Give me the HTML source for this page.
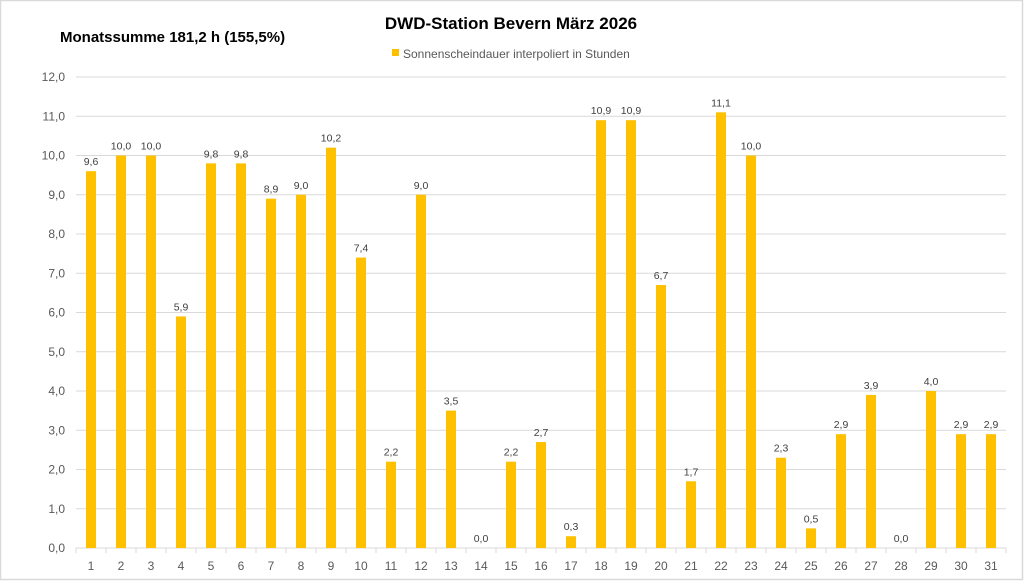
<!DOCTYPE html>
<html><head><meta charset="utf-8"><style>
html,body{margin:0;padding:0;background:#fff;}
svg{display:block;font-family:"Liberation Sans",sans-serif;}
</style></head><body>
<svg width="1024" height="581" viewBox="0 0 1024 581" xmlns="http://www.w3.org/2000/svg">
<rect x="0.5" y="0.5" width="1022" height="579" fill="#fff" stroke="#d9d9d9" stroke-width="1.5"/>
<text x="511" y="29" text-anchor="middle" font-size="17" font-weight="bold" fill="#000">DWD-Station Bevern März 2026</text>
<text x="60" y="42" font-size="15" font-weight="bold" fill="#000">Monatssumme 181,2 h (155,5%)</text>
<rect x="392" y="49" width="7" height="7" fill="#FFC000"/>
<text x="403" y="58" font-size="12" fill="#595959">Sonnenscheindauer interpoliert in Stunden</text>
<g id="grid" stroke="#d9d9d9" stroke-width="1"></g>
<g id="ylab" font-size="12" fill="#595959" text-anchor="end"></g>
<g id="bars" fill="#FFC000"></g>
<g id="vlab" font-size="10.5" fill="#404040" text-anchor="middle"></g>
<g id="xlab" font-size="12" fill="#595959" text-anchor="middle"></g>
<script>
var ns="http://www.w3.org/2000/svg";
function el(p,t,a,txt){var e=document.createElementNS(ns,t);for(var k in a)e.setAttribute(k,a[k]);if(txt!==undefined)e.textContent=txt;document.getElementById(p).appendChild(e);}
var y0=548,s=39.25,L=76,R=1006;
for(var i=0;i<=12;i++){var y=y0-i*s;el("grid","line",{x1:L,x2:R,y1:y,y2:y});el("ylab","text",{x:65,y:y+4},i.toFixed(1).replace(".",","));}
for(var i=0;i<=31;i++){var x=L+i*30;el("grid","line",{x1:x,x2:x,y1:y0,y2:y0+5});}
var d=[9.6,10,10,5.9,9.8,9.8,8.9,9,10.2,7.4,2.2,9,3.5,0,2.2,2.7,0.3,10.9,10.9,6.7,1.7,11.1,10,2.3,0.5,2.9,3.9,0,4,2.9,2.9];
for(var i=0;i<31;i++){var c=L+15+i*30,h=d[i]*s;
if(h>0)el("bars","rect",{x:c-5,y:y0-h,width:10,height:h});
el("vlab","text",{x:c,y:y0-h-6},d[i].toFixed(1).replace(".",","));
el("xlab","text",{x:c,y:570},String(i+1));}
</script>
</svg>
</body></html>
